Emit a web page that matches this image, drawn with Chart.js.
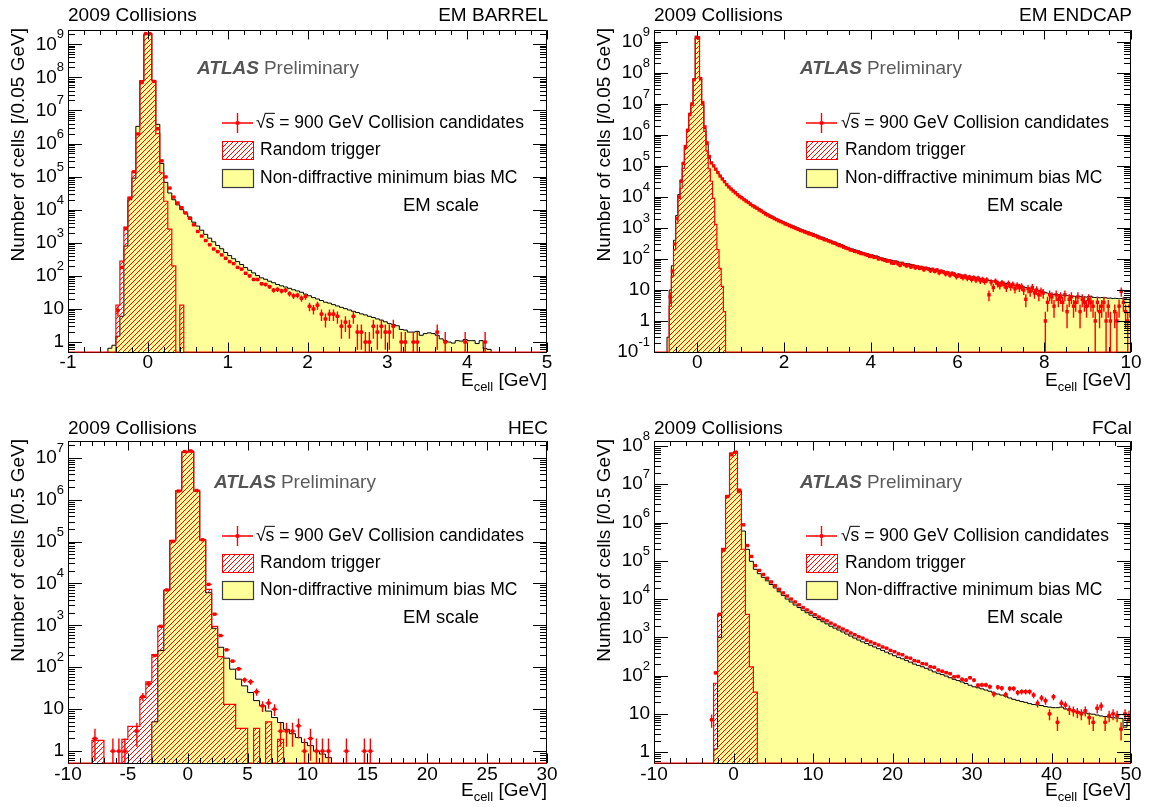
<!DOCTYPE html>
<html>
<head>
<meta charset="utf-8">
<title>LAr cell energy distributions, 2009 collisions</title>
<script src="https://cdn.jsdelivr.net/npm/chart.js@4.4.1/dist/chart.umd.min.js"></script>
<style>
  html, body { margin: 0; padding: 0; background: #ffffff; }
  #page { position: relative; width: 1150px; height: 807px; overflow: hidden; background: #ffffff; }
  #page canvas { position: absolute; left: 0; top: 0; }
</style>
</head>
<body>
<div id="page">
  <canvas id="barrel" width="1150" height="807"></canvas>
  <canvas id="endcap" width="1150" height="807"></canvas>
  <canvas id="hec" width="1150" height="807"></canvas>
  <canvas id="fcal" width="1150" height="807"></canvas>
</div>
<script>
// ---------- EM barrel (0.05 GeV bins) ----------
const barrelBinWidth = 0.05;
const barrelMcStart = -0.5;
const barrelMc = [
  0.65, 0.8, 1.5, 6, 800, 20000, 90000, 3.3e6, 8e7, 2.0e9,
  2.1e9, 8e7, 3.8e6, 2.5e5, 67000, 32000, 20000, 14000, 10000, 7600,
  6000, 4200, 3200, 2400, 1800, 1380, 1070, 830, 660, 510,
  410, 330, 270, 220, 178, 148, 123, 102, 87, 79,
  69, 62, 55, 50, 46, 42, 38, 35, 32, 28,
  25, 22, 20, 18, 16, 15, 13.5, 12.3, 11.2, 10.2,
  9.3, 8.5, 7.8, 7.1, 6.6, 6.0, 5.5, 5.0, 4.6, 4.1,
  3.6, 3.4, 3.1, 2.4, 2.3, 2.0, 2.0, 2.1, 1.6, 1.8,
  1.9, 1.8, 1.6, 1.25, 1.1, 1.0, 0.93, 1.1, 1.07, 1.2,
  1.1, 1.1, 0.9, 1.1, 0.63, 0.6
];
const barrelRandomStart = -0.4;
const barrelRandom = [13, 280, 3000, 24000, 140000, 1.9e6, 8e7, 2.0e9, 2.1e9, 8e7, 2.0e6, 130000, 18000, 2600, 200, 0, 13];
const barrelDataStart = -0.4;
const barrelData = [
  9, 180, 2700, 22000, 140000, 1.95e6, 7e7, 2.1e9, 2.1e9, 7.5e7,
  2.8e6, 3.0e5, 98000, 45000, 24000, 16000, 11500, 8000, 5500, 3500,
  2200, 1600, 1170, 870, 650, 540, 430, 340, 270, 235,
  180, 160, 120, 100, 78, 78, 58, 55, 47, 37,
  39, 35, 37, 29, 25, 26, 21, 24, 12, 10,
  13, 7, 5, 7, 7, 6, 3, 4, 3, 6,
  2, 2, 1, 1, 3, 2, 3, 2, 2, 3,
  0, 1, 1, 0, 1, 1, 0, 0, 0, 0,
  2, 0, 1, 0, 0, 0, 0, 1, 0, 0,
  0, 0, 1
];
const barrelXTicks = [-1, 0, 1, 2, 3, 4, 5];
const barrelYPowers = [0, 1, 2, 3, 4, 5, 6, 7, 8, 9];

// ---------- EM endcap (0.05 GeV bins) ----------
const endcapBinWidth = 0.05;
const endcapMcStart = -0.7;
const endcapMc = [
  0.3, 10, 60, 400, 2500, 12000, 35000, 130000, 450000, 1.5e6,
  5e6, 1e7, 6.5e7, 1.3e9, 1.3e9, 6.5e7, 1e7, 1.6e6, 5e5, 1.7e5,
  1.2e5, 1.0e5, 76000, 60000, 48000, 40000, 32000, 26000, 22000, 19000,
  16500, 14500, 12600, 11200, 10000, 8900, 7900, 7100, 6300, 5600,
  5100, 4600, 4200, 3800, 3400, 3100, 2800, 2600, 2400, 2240,
  2040, 1900, 1740, 1620, 1510, 1410, 1320, 1230, 1150, 1070,
  1000, 930, 870, 830, 780, 740, 690, 660, 620, 575,
  540, 500, 480, 450, 420, 400, 370, 350, 325, 310,
  290, 270, 250, 235, 220, 210, 200, 190, 182, 170,
  162, 155, 148, 141, 135, 129, 123, 118, 112, 107,
  102, 98, 93, 91, 87, 83, 81, 78, 76, 72,
  71, 68, 66, 63, 62, 59, 58, 56, 54, 52,
  51, 49, 48, 46, 45, 43, 42, 40, 38, 37,
  35, 35, 33, 32, 32, 30, 30, 28, 27.5, 27,
  26, 26, 24.5, 24, 23.5, 22.4, 22, 21.4, 20.4, 20,
  19.5, 19, 18.2, 17.8, 17.4, 16.6, 16.2, 15.8, 15.1, 14.8,
  14.1, 13.8, 13.5, 12.9, 12.6, 12.0, 11.7, 11.2, 11.0, 10.5,
  10.0, 9.5, 9.1, 8.7, 8.3, 7.9, 7.6, 7.4, 7.2, 7.1,
  7.1, 6.9, 6.8, 6.6, 6.6, 6.5, 6.3, 6.3, 6.2, 6.1,
  6.1, 6.0, 6.0, 5.9, 6.2, 6.3, 5.8, 5.7, 5.8, 5.6,
  5.7, 5.5, 5.6, 5.4, 5.5, 5.3, 5.4, 5.3, 5.2, 5.3,
  5.1, 5.2, 5.0, 5.1
];
const endcapRandomStart = -0.65;
const endcapRandom = [
  3, 28, 200, 1400, 9000, 19000, 83000, 3.6e5, 1.3e6, 4.5e6,
  9e6, 6e7, 1.3e9, 1.25e9, 6e7, 9e6, 1.3e6, 3e5, 80000, 32000,
  9000, 1300, 200, 50, 13, 2
];
const endcapDataStart = -0.65;
const endcapData = [
  6, 40, 300, 2000, 10000, 32000, 120000, 420000, 1.4e6, 4.5e6,
  1.0e7, 6e7, 1.4e9, 1.35e9, 6.5e7, 1.1e7, 1.8e6, 5.5e5, 2.0e5, 1.25e5,
  1.0e5, 78000, 61000, 47000, 38000, 31000, 25000, 21000, 18000, 15500,
  13600, 11800, 10300, 9300, 8200, 7300, 6600, 5800, 5200, 4700,
  4300, 3800, 3500, 3150, 2800, 2600, 2350, 2200, 2000, 1850,
  1700, 1600, 1480, 1350, 1280, 1180, 1100, 1030, 960, 900,
  830, 800, 740, 700, 650, 630, 580, 560, 510, 480,
  460, 420, 410, 380, 360, 330, 320, 290, 270, 265,
  240, 225, 215, 195, 190, 175, 172, 160, 150, 148,
  138, 132, 120, 125, 112, 115, 100, 102, 95, 90,
  85, 88, 75, 72, 80, 70, 62, 72, 66, 60,
  64, 55, 60, 52, 56, 50, 53, 45, 50, 48,
  42, 46, 40, 44, 36, 40, 38, 33, 36, 30,
  34, 32, 27, 30, 28, 25, 28, 24, 26, 22,
  25, 21, 24, 20, 22, 19, 21, 7, 18, 12,
  19, 16, 14, 17, 15, 12, 16, 13, 15, 11,
  14, 12, 13, 10, 5, 11, 9, 12, 8, 10,
  7, 9, 8, 1, 4, 7, 6, 3, 7, 5,
  6, 4, 7, 2, 5, 6, 3, 4, 6, 2,
  5, 4, 3, 5, 4, 3, 1, 4, 2, 3,
  4, 1, 3, 1, 0, 2, 1, 3, 9, 4,
  2, 1, 3
];
const endcapXTicks = [0, 2, 4, 6, 8, 10];
const endcapYPowers = [-1, 0, 1, 2, 3, 4, 5, 6, 7, 8, 9];

// ---------- HEC (0.5 GeV bins) ----------
const hecBinWidth = 0.5;
const hecMcStart = -3;
const hecMc = [
  5, 250, 7000, 105000, 1.65e6, 1.35e7, 1.4e7, 1.65e6, 110000, 6000,
  850, 300, 165, 90, 52, 36, 25, 16, 12, 9,
  6.3, 4.8, 3.3, 2.6, 2.1, 1.6, 1.35, 1.0, 0.85, 0.7
];
const hecRandomStart = -8;
const hecRandom = [
  1.8, 1.8, 0, 0, 0, 1.9, 3.9, 3.9, 19, 45,
  200, 950, 6800, 107000, 1.6e6, 1.35e7, 1.38e7, 1.6e6, 110000, 7200,
  950, 180, 13, 13, 3.5, 3.5, 0, 3.5, 0, 5,
  0, 1.9
];
const hecDataStart = -8;
const hecData = [
  2, 0, 0, 1, 1, 1, 0, 3, 20, 40,
  190, 950, 7000, 100000, 1.6e6, 1.4e7, 1.45e7, 1.65e6, 110000, 9500,
  1850, 570, 260, 140, 92, 50, 45, 26, 12, 14,
  10, 3, 3, 3, 4, 1, 2, 1, 1, 1,
  0, 0, 1, 0, 0, 1, 1
];
const hecXTicks = [-10, -5, 0, 5, 10, 15, 20, 25, 30];
const hecYPowers = [0, 1, 2, 3, 4, 5, 6, 7];

// ---------- FCal (0.5 GeV bins) ----------
const fcalBinWidth = 0.5;
const fcalMcStart = -2.5;
const fcalMc = [
  1.2, 1000, 190000, 5e6, 6.5e7, 7e7, 6.6e6, 600000, 200000, 97000,
  60000, 46000, 37000, 30000, 24000, 19500, 15500, 12500, 10000, 8400,
  7000, 6000, 5100, 4400, 3800, 3300, 2900, 2550, 2250, 1950,
  1740, 1550, 1380, 1220, 1080, 955, 850, 760, 690, 620,
  560, 505, 455, 410, 370, 330, 300, 275, 250, 225,
  200, 185, 170, 155, 140, 125, 115, 106, 97, 88,
  80, 74, 68, 62, 56, 51, 48, 45, 42, 39,
  35, 33, 31, 29, 26, 24, 22.5, 21, 20, 18.5,
  17.5, 17, 16.5, 15.5, 15, 14.5, 14.5, 15, 13.5, 12.5,
  12, 11.5, 11, 10.5, 10, 9.8, 9.3, 8.8, 8.5, 8.2,
  7.9, 7.8, 7.6, 4.5, 7
];
const fcalRandomStart = -2.5;
const fcalRandom = [63, 4000, 210000, 5e6, 6.5e7, 7e7, 6e6, 200000, 4000, 170, 37];
const fcalDataStart = -3;
const fcalData = [
  7, 118, 4000, 190000, 4.8e6, 5.9e7, 6.9e7, 7e6, 870000, 250000,
  130000, 75000, 56000, 44000, 35000, 28000, 22500, 18000, 14500, 12000,
  10000, 8400, 7100, 6000, 5200, 4500, 3900, 3400, 3000, 2700,
  2350, 2100, 1850, 1650, 1480, 1300, 1170, 1040, 950, 840,
  760, 690, 630, 560, 520, 455, 420, 370, 350, 300,
  285, 245, 235, 205, 200, 170, 165, 140, 130, 120,
  112, 93, 95, 80, 76, 88, 76, 56, 57, 57,
  51, 33, 50, 47, 32, 46, 46, 36, 38, 38,
  38, 31, 19, 26, 22, 10, 28, 6, 19, 17,
  13, 12, 11, 10, 12, 8, 6, 14, 16, 6,
  9, 10, 9, 4, 10, 9
];
const fcalXTicks = [-10, 0, 10, 20, 30, 40, 50];
const fcalYPowers = [0, 1, 2, 3, 4, 5, 6, 7, 8];

// ---------- drawing ----------
const W = 1150, H = 807;
const RED = '#ff0000';
const YELLOW = '#ffff99';
const SANS = '"Liberation Sans", Arial, Helvetica, sans-serif';

function makeHatch() {
  const t = document.createElement('canvas');
  t.width = 5; t.height = 5;
  const g = t.getContext('2d');
  g.strokeStyle = RED;
  g.lineWidth = 1;
  g.beginPath();
  g.moveTo(-1, 6); g.lineTo(6, -1);
  g.moveTo(-1, 1); g.lineTo(1, -1);
  g.moveTo(4, 6); g.lineTo(6, 4);
  g.stroke();
  return g.createPattern(t, 'repeat');
}
const hatch = makeHatch();

const panels = [
  { id: 'barrel', name: 'EM BARREL', binWidth: barrelBinWidth,
    mc: [barrelMcStart, barrelMc], random: [barrelRandomStart, barrelRandom], data: [barrelDataStart, barrelData],
    xRange: [-1, 5], yRange: [0.5, 2.7e9], xTicks: barrelXTicks, yPowers: barrelYPowers, xMajor: 1, xMinor: 0.2,
    yTitle: 'Number of cells [/0.05 GeV]',
    box: { l: 68, t: 30, r: 547, b: 352 }, headY: 16, yTitleX: 19, xTitleY: 386, xLabelY: 363,
    atlas: [197, 69], legend: { x: 222, y: [123, 150, 178], tx1: 256, tx2: 260 }, emScale: [403, 206] },
  { id: 'endcap', name: 'EM ENDCAP', binWidth: endcapBinWidth,
    mc: [endcapMcStart, endcapMc], random: [endcapRandomStart, endcapRandom], data: [endcapDataStart, endcapData],
    xRange: [-1, 10], yRange: [0.1, 2.4e9], xTicks: endcapXTicks, yPowers: endcapYPowers, xMajor: 2, xMinor: 0.5,
    yTitle: 'Number of cells [/0.05 GeV]',
    box: { l: 654, t: 30, r: 1131, b: 352 }, headY: 16, yTitleX: 605, xTitleY: 386, xLabelY: 363,
    atlas: [800, 69], legend: { x: 806, y: [123, 150, 178], tx1: 841, tx2: 845 }, emScale: [987, 206] },
  { id: 'hec', name: 'HEC', binWidth: hecBinWidth,
    mc: [hecMcStart, hecMc], random: [hecRandomStart, hecRandom], data: [hecDataStart, hecData],
    xRange: [-10, 30], yRange: [0.52, 2.5e7], xTicks: hecXTicks, yPowers: hecYPowers, xMajor: 5, xMinor: 1,
    yTitle: 'Number of cells [/0.5 GeV]',
    box: { l: 68, t: 441, r: 547, b: 763 }, headY: 429, yTitleX: 19, xTitleY: 796, xLabelY: 775,
    atlas: [214, 483], legend: { x: 222, y: [536, 563, 590], tx1: 256, tx2: 260 }, emScale: [403, 618] },
  { id: 'fcal', name: 'FCal', binWidth: fcalBinWidth,
    mc: [fcalMcStart, fcalMc], random: [fcalRandomStart, fcalRandom], data: [fcalDataStart, fcalData],
    xRange: [-10, 50], yRange: [0.52, 1.35e8], xTicks: fcalXTicks, yPowers: fcalYPowers, xMajor: 10, xMinor: 2,
    yTitle: 'Number of cells [/0.5 GeV]',
    box: { l: 654, t: 441, r: 1131, b: 763 }, headY: 429, yTitleX: 605, xTitleY: 796, xLabelY: 775,
    atlas: [800, 483], legend: { x: 806, y: [536, 563, 590], tx1: 841, tx2: 845 }, emScale: [987, 618] }
];

// Step outline: rises from the floor at the first edge, falls back at the last edge.
function histPoints(start, width, values, floor, spanFrom, spanTo) {
  const pts = [];
  if (spanFrom !== undefined) pts.push({ x: spanFrom, y: floor });
  pts.push({ x: start, y: floor });
  values.forEach((v, i) => pts.push({ x: start + i * width, y: v > floor ? v : floor }));
  pts.push({ x: start + values.length * width, y: floor });
  if (spanTo !== undefined) pts.push({ x: spanTo, y: floor });
  return pts;
}

function drawPower(ctx, e, xRight, yMid) {
  ctx.fillStyle = '#000';
  if (e === 0 || e === 1) {
    ctx.font = '19px ' + SANS;
    ctx.textAlign = 'right';
    ctx.textBaseline = 'middle';
    ctx.fillText(e === 0 ? '1' : '10', xRight, yMid);
    return;
  }
  const sup = String(e);
  ctx.font = '13px ' + SANS;
  const ws = ctx.measureText(sup).width;
  ctx.textAlign = 'left';
  ctx.textBaseline = 'alphabetic';
  ctx.fillText(sup, xRight - ws, yMid - 6);
  ctx.font = '19px ' + SANS;
  ctx.textAlign = 'right';
  ctx.textBaseline = 'middle';
  ctx.fillText('10', xRight - ws, yMid);
}

function drawErrorBars(chart, p) {
  const { ctx, chartArea: a, scales: { x, y } } = chart;
  const pts = chart.data.datasets[0].data;
  const half = p.binWidth / 2;
  ctx.save();
  ctx.beginPath();
  ctx.rect(a.left, a.top, a.right - a.left, a.bottom - a.top);
  ctx.clip();
  ctx.strokeStyle = RED;
  ctx.lineWidth = 1.4;
  ctx.beginPath();
  pts.forEach(pt => {
    const err = Math.sqrt(pt.y);
    const px = x.getPixelForValue(pt.x);
    const py = y.getPixelForValue(pt.y);
    const lo = pt.y - err > p.yRange[0] ? y.getPixelForValue(pt.y - err) : a.bottom;
    const hi = y.getPixelForValue(pt.y + err);
    ctx.moveTo(px, lo); ctx.lineTo(px, hi);
    ctx.moveTo(x.getPixelForValue(pt.x - half), py);
    ctx.lineTo(x.getPixelForValue(pt.x + half), py);
  });
  ctx.stroke();
  ctx.restore();
}

function drawFrame(chart, p) {
  const { ctx, chartArea: a, scales: { x, y } } = chart;
  ctx.save();
  ctx.strokeStyle = '#000';
  ctx.lineWidth = 1;
  ctx.beginPath();
  const L = a.left + 0.5, R = a.right - 0.5, T = a.top + 0.5;
  ctx.moveTo(L, a.bottom); ctx.lineTo(L, T); ctx.lineTo(R, T); ctx.lineTo(R, a.bottom);
  const n = Math.round((p.xRange[1] - p.xRange[0]) / p.xMinor);
  for (let k = 0; k <= n; k++) {
    const v = p.xRange[0] + k * p.xMinor;
    const q = v / p.xMajor;
    const len = Math.abs(q - Math.round(q)) < 1e-6 ? 9.5 : 5;
    const px = Math.round(x.getPixelForValue(v)) + 0.5;
    ctx.moveTo(px, a.bottom); ctx.lineTo(px, a.bottom - len);
    ctx.moveTo(px, a.top); ctx.lineTo(px, a.top + len);
  }
  const e0 = Math.floor(Math.log10(p.yRange[0]));
  const e1 = Math.ceil(Math.log10(p.yRange[1]));
  for (let e = e0; e <= e1; e++) {
    for (let m = 1; m <= 9; m++) {
      const v = m * Math.pow(10, e);
      if (v < p.yRange[0] * 0.999 || v > p.yRange[1]) continue;
      const len = m === 1 ? 14 : 7;
      const py = Math.round(y.getPixelForValue(v)) + 0.5;
      ctx.moveTo(a.left, py); ctx.lineTo(a.left + len, py);
      ctx.moveTo(a.right, py); ctx.lineTo(a.right - len, py);
    }
  }
  ctx.stroke();
  ctx.restore();
}

function drawLegend(ctx, L) {
  const w = 31;
  const [y1, y2, y3] = L.y;
  // collision candidates: marker with error cross
  ctx.strokeStyle = RED;
  ctx.lineWidth = 1.4;
  ctx.beginPath();
  ctx.moveTo(L.x, y1); ctx.lineTo(L.x + w, y1);
  ctx.moveTo(L.x + w / 2, y1 - 10); ctx.lineTo(L.x + w / 2, y1 + 10);
  ctx.stroke();
  ctx.fillStyle = RED;
  ctx.fillRect(L.x + w / 2 - 1.7, y1 - 1.7, 3.4, 3.4);

  ctx.fillStyle = '#000';
  ctx.font = '17.5px ' + SANS;
  ctx.textAlign = 'left';
  ctx.textBaseline = 'middle';
  const root = '\u221A';
  ctx.fillText(root, L.tx1, y1);
  const mRoot = ctx.measureText(root);
  const wRoot = mRoot.width;
  const wS = ctx.measureText('s').width;
  ctx.fillText('s = 900 GeV Collision candidates', L.tx1 + wRoot, y1);
  const top = y1 - mRoot.actualBoundingBoxAscent + 0.5;
  ctx.strokeStyle = '#000';
  ctx.lineWidth = 1;
  ctx.beginPath();
  ctx.moveTo(L.tx1 + wRoot - 1, top);
  ctx.lineTo(L.tx1 + wRoot + wS + 0.5, top);
  ctx.stroke();

  // random trigger box
  ctx.fillStyle = hatch;
  ctx.fillRect(L.x, y2 - 9, w, 19);
  ctx.strokeStyle = RED;
  ctx.lineWidth = 1;
  ctx.strokeRect(L.x + 0.5, y2 - 8.5, w, 18);
  ctx.fillStyle = '#000';
  ctx.fillText('Random trigger', L.tx2, y2);

  // MC box
  ctx.fillStyle = YELLOW;
  ctx.fillRect(L.x, y3 - 9, w, 19);
  ctx.strokeStyle = '#3a3a3a';
  ctx.lineWidth = 1.2;
  ctx.strokeRect(L.x + 0.5, y3 - 8.5, w, 18);
  ctx.fillStyle = '#000';
  ctx.fillText('Non-diffractive minimum bias MC', L.tx2, y3);
}

function drawTexts(chart, p) {
  const { ctx, chartArea: a, scales: { x, y } } = chart;
  ctx.save();
  ctx.fillStyle = '#000';
  ctx.font = '19px ' + SANS;
  ctx.textBaseline = 'middle';
  ctx.textAlign = 'left';
  ctx.fillText('2009 Collisions', a.left, p.headY);
  ctx.textAlign = 'right';
  ctx.fillText(p.name, a.right + 1, p.headY);

  // x tick labels
  ctx.textAlign = 'center';
  p.xTicks.forEach(v => ctx.fillText(String(v), x.getPixelForValue(v), p.xLabelY));
  // y tick labels
  p.yPowers.forEach(e => drawPower(ctx, e, a.left - 4, y.getPixelForValue(Math.pow(10, e))));

  // y title
  ctx.save();
  ctx.fillStyle = '#000';
  ctx.font = '19px ' + SANS;
  ctx.translate(p.yTitleX, a.top - 2);
  ctx.rotate(-Math.PI / 2);
  ctx.textAlign = 'right';
  ctx.textBaseline = 'middle';
  ctx.fillText(p.yTitle, 0, 0);
  ctx.restore();

  // x title: E_cell [GeV]
  ctx.textAlign = 'left';
  ctx.textBaseline = 'alphabetic';
  ctx.font = '19px ' + SANS;
  const wE = ctx.measureText('E').width;
  const wRest = ctx.measureText(' [GeV]').width;
  ctx.font = '13px ' + SANS;
  const wSub = ctx.measureText('cell').width;
  const x0 = a.right - (wE + wSub + wRest);
  ctx.font = '19px ' + SANS;
  ctx.fillText('E', x0, p.xTitleY);
  ctx.fillText(' [GeV]', x0 + wE + wSub, p.xTitleY);
  ctx.font = '13px ' + SANS;
  ctx.fillText('cell', x0 + wE, p.xTitleY + 5);

  // ATLAS label
  ctx.textBaseline = 'middle';
  ctx.fillStyle = '#545454';
  ctx.font = 'italic bold 19px ' + SANS;
  ctx.fillText('ATLAS', p.atlas[0], p.atlas[1]);
  const wA = ctx.measureText('ATLAS').width;
  ctx.fillStyle = '#5c5c5c';
  ctx.font = '19px ' + SANS;
  ctx.fillText('Preliminary', p.atlas[0] + wA + 5, p.atlas[1]);

  drawLegend(ctx, p.legend);

  ctx.fillStyle = '#000';
  ctx.font = '18.5px ' + SANS;
  ctx.textAlign = 'left';
  ctx.textBaseline = 'middle';
  ctx.fillText('EM scale', p.emScale[0], p.emScale[1]);
  ctx.restore();
}

function panelPlugin(p) {
  return {
    id: 'atlasPanel',
    beforeDatasetsDraw(chart) {
      const { ctx, chartArea: a } = chart;
      ctx.save();
      ctx.strokeStyle = '#000';
      ctx.lineWidth = 1;
      ctx.beginPath();
      ctx.moveTo(a.left, a.bottom + 0.5);
      ctx.lineTo(a.right, a.bottom + 0.5);
      ctx.stroke();
      ctx.restore();
    },
    afterDatasetsDraw(chart) {
      drawErrorBars(chart, p);
      drawFrame(chart, p);
    },
    afterDraw(chart) {
      drawTexts(chart, p);
    }
  };
}

function buildPanel(p) {
  const floor = p.yRange[0];
  const mcPts = histPoints(p.mc[0], p.binWidth, p.mc[1], floor);
  const rndPts = histPoints(p.random[0], p.binWidth, p.random[1], floor, p.xRange[0], p.xRange[1]);
  const dataPts = [];
  p.data[1].forEach((v, i) => {
    if (v > 0) dataPts.push({ x: p.data[0] + (i + 0.5) * p.binWidth, y: v });
  });
  return new Chart(document.getElementById(p.id), {
    type: 'line',
    data: {
      datasets: [
        { label: 'Collision candidates', data: dataPts, showLine: false,
          pointStyle: 'rect', pointRadius: 2.4, pointHoverRadius: 2.4,
          pointBackgroundColor: RED, pointBorderColor: RED, pointBorderWidth: 0, order: 0 },
        { label: 'Random trigger', data: rndPts, stepped: true, borderColor: RED, borderWidth: 1.2,
          backgroundColor: hatch, fill: 'start', pointRadius: 0, order: 1,
          clip: { left: 0, top: 0, right: 0, bottom: 2 } },
        { label: 'Non-diffractive minimum bias MC', data: mcPts, stepped: true, borderColor: '#000',
          borderWidth: 1, backgroundColor: YELLOW, fill: 'start', pointRadius: 0, order: 2 }
      ]
    },
    options: {
      responsive: false,
      animation: false,
      devicePixelRatio: 1,
      events: [],
      layout: { padding: { left: p.box.l, top: p.box.t, right: W - p.box.r, bottom: H - p.box.b } },
      scales: {
        x: { type: 'linear', display: false, min: p.xRange[0], max: p.xRange[1], bounds: 'data' },
        y: { type: 'logarithmic', display: false, min: p.yRange[0], max: p.yRange[1], bounds: 'data' }
      },
      plugins: { legend: { display: false }, tooltip: { enabled: false }, title: { display: false } }
    },
    plugins: [panelPlugin(p)]
  });
}

panels.forEach(buildPanel);
</script>
</body>
</html>
